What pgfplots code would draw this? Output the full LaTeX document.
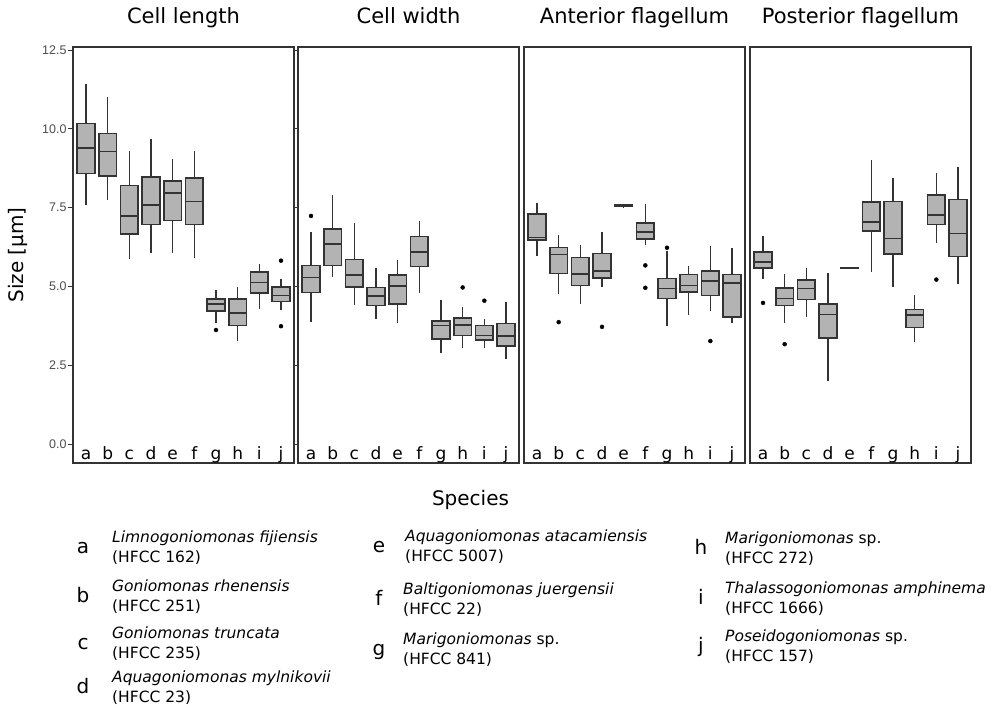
\documentclass[border=0pt]{standalone}
\usepackage{fontspec}
\setmainfont{DejaVu Sans}
\newfontfamily\tickfont{Liberation Sans}
\usepackage{pgfplots}
\pgfplotsset{compat=1.18}
\usepgfplotslibrary{statistics}
\definecolor{boxfill}{HTML}{B3B3B3}
\definecolor{edge}{HTML}{333333}
\definecolor{ticktext}{HTML}{4D4D4D}

% one facet of the figure
\pgfplotsset{
  facet/.style={
    scale only axis, width=221pt, height=416pt,
    anchor=south west,
    xmin=0.4, xmax=10.6, ymin=-0.6, ymax=12.6,
    axis line style={draw=edge, line width=1.1pt},
    xtick={1,...,10}, xticklabels={a,b,c,d,e,f,g,h,i,j},
    xtick style={draw=none},
    xticklabel style={font=\fontsize{17}{20}\selectfont, anchor=base, yshift=8.5pt},
    ytick=\empty,
    tick align=outside, major tick length=5pt,
    title style={font=\fontsize{21}{25}\selectfont, anchor=base, at={(0.5,1)}, yshift=17pt},
    boxplot/draw direction=y,
    boxplot/whisker extend=0, boxplot/box extend=0.82,
    boxplot/every box/.style={draw=edge, fill=boxfill, line width=1.5pt},
    boxplot/every whisker/.style={draw=edge, line width=1.3pt},
    boxplot/every median/.style={draw=edge, line width=1.5pt},
  },
  bx/.style={draw=edge, fill=boxfill, solid, mark=none},
  outl/.style={only marks, mark=*, mark size=2pt, draw=black, fill=black},
}
% draw position, lower whisker, Q1, median, Q3, upper whisker
\newcommand{\bx}[6]{\addplot[bx, boxplot prepared={draw position=#1, lower whisker=#2,
  lower quartile=#3, median=#4, upper quartile=#5, upper whisker=#6}] coordinates {};}

\begin{document}
\begin{tikzpicture}
\path[use as bounding box] (0pt,0pt) rectangle (992pt,-708pt);

\begin{axis}[facet, at={(73pt,-463pt)}, title={Cell length},
  ytick={0,2.5,5,7.5,10,12.5}, yticklabels={0.0,2.5,5.0,7.5,10.0,12.5},
  yticklabel style={font=\tickfont\fontsize{12.5}{14}\selectfont, text=ticktext, xshift=2pt},
  ytick style={draw=edge, line width=1pt}]
\bx{1}{7.60}{8.59}{9.40}{10.17}{11.44}
\bx{2}{7.74}{8.51}{9.29}{9.85}{11.02}
\bx{3}{5.88}{6.66}{7.23}{8.21}{9.30}
\bx{4}{6.05}{6.97}{7.59}{8.48}{9.69}
\bx{5}{6.05}{7.10}{7.96}{8.35}{9.06}
\bx{6}{5.92}{6.97}{7.70}{8.44}{9.30}
\bx{7}{3.85}{4.22}{4.44}{4.60}{4.89}
\bx{8}{3.28}{3.76}{4.16}{4.61}{4.99}
\bx{9}{4.30}{4.80}{5.13}{5.46}{5.71}
\bx{10}{4.27}{4.52}{4.71}{4.98}{5.25}
\addplot[outl] coordinates {(7,3.62) (10,5.82) (10,3.74)};
\end{axis}

\begin{axis}[facet, at={(298pt,-463pt)}, title={Cell width}]
\bx{1}{3.88}{4.81}{5.29}{5.67}{6.74}
\bx{2}{5.31}{5.67}{6.35}{6.83}{7.90}
\bx{3}{4.41}{4.99}{5.36}{5.85}{7.03}
\bx{4}{3.98}{4.39}{4.70}{4.97}{5.59}
\bx{5}{3.83}{4.45}{5.02}{5.36}{5.85}
\bx{6}{4.81}{5.63}{6.10}{6.58}{7.07}
\bx{7}{2.88}{3.34}{3.76}{3.90}{4.57}
\bx{8}{3.06}{3.45}{3.78}{4.00}{4.36}
\bx{9}{3.04}{3.30}{3.45}{3.76}{3.97}
\bx{10}{2.69}{3.11}{3.43}{3.83}{4.51}
\addplot[outl] coordinates {(1,7.24) (8,4.97) (9,4.55)};
\end{axis}

\begin{axis}[facet, at={(524pt,-463pt)}, title={Anterior flagellum}]
\bx{1}{5.96}{6.47}{6.56}{7.30}{7.64}
\bx{2}{4.76}{5.41}{6.01}{6.24}{6.62}
\bx{3}{4.46}{5.04}{5.39}{5.92}{6.31}
\bx{4}{4.97}{5.27}{5.49}{6.04}{6.72}
\bx{5}{7.50}{7.54}{7.57}{7.60}{7.61}
\bx{6}{6.31}{6.50}{6.73}{7.01}{7.61}
\bx{7}{3.76}{4.62}{4.93}{5.26}{6.12}
\bx{8}{4.09}{4.82}{5.03}{5.38}{5.65}
\bx{9}{4.23}{4.71}{5.18}{5.50}{6.28}
\bx{10}{3.85}{4.04}{5.11}{5.38}{6.22}
\addplot[outl] coordinates {(2,3.87) (4,3.72) (6,5.67) (6,4.96) (7,6.23) (9,3.27)};
\end{axis}

\begin{axis}[facet, at={(750pt,-463pt)}, title={Posterior flagellum}]
\bx{1}{5.25}{5.58}{5.77}{6.10}{6.60}
\bx{2}{3.85}{4.40}{4.62}{4.96}{5.41}
\bx{3}{4.02}{4.59}{4.94}{5.20}{5.59}
\bx{4}{2.01}{3.37}{4.11}{4.44}{5.44}
\bx{5}{5.58}{5.585}{5.59}{5.595}{5.60}
\bx{6}{5.47}{6.76}{7.05}{7.68}{9.01}
\bx{7}{4.99}{6.03}{6.52}{7.70}{8.43}
\bx{8}{3.24}{3.70}{4.10}{4.27}{4.72}
\bx{9}{6.39}{6.97}{7.27}{7.91}{8.59}
\bx{10}{5.07}{5.95}{6.68}{7.76}{8.80}
\addplot[outl] coordinates {(1,4.48) (2,3.17) (9,5.22)};
\end{axis}

\node[rotate=90, font=\fontsize{20}{24}\selectfont] at (17.5pt,-255pt) {Size [µm]};
\node[anchor=base, font=\fontsize{20}{24}\selectfont] at (470.5pt,-505pt) {Species};

\begin{scope}[every node/.style={inner sep=0pt}]
\def\entry#1#2#3#4#5#6{%
  \node[anchor=base, font=\fontsize{20}{24}\selectfont] at (#1pt,-#3pt-11pt) {#4};
  \node[anchor=base west, font=\fontsize{15.5}{18}\selectfont] at (#2pt,-#3pt) {#5};
  \node[anchor=base west, font=\fontsize{15.5}{18}\selectfont] at (#2pt,-#3pt-20pt) {#6};}
\entry{83}{112}{542}{a}{\textit{Limnogoniomonas fijiensis}}{(HFCC 162)}
\entry{83}{112}{591}{b}{\textit{Goniomonas rhenensis}}{(HFCC 251)}
\entry{83}{112}{638}{c}{\textit{Goniomonas truncata}}{(HFCC 235)}
\entry{83}{112}{682}{d}{\textit{Aquagoniomonas mylnikovii}}{(HFCC 23)}
\entry{379}{405}{541}{e}{\textit{Aquagoniomonas atacamiensis}}{(HFCC 5007)}
\entry{379}{403}{594}{f}{\textit{Baltigoniomonas juergensii}}{(HFCC 22)}
\entry{379}{403}{644}{g}{\textit{Marigoniomonas} sp.}{(HFCC 841)}
\entry{701}{725}{543}{h}{\textit{Marigoniomonas} sp.}{(HFCC 272)}
\entry{701}{725}{593}{i}{\textit{Thalassogoniomonas amphinema}}{(HFCC 1666)}
\entry{701}{725}{641}{j}{\textit{Poseidogoniomonas} sp.}{(HFCC 157)}
\end{scope}
\end{tikzpicture}
\end{document}
